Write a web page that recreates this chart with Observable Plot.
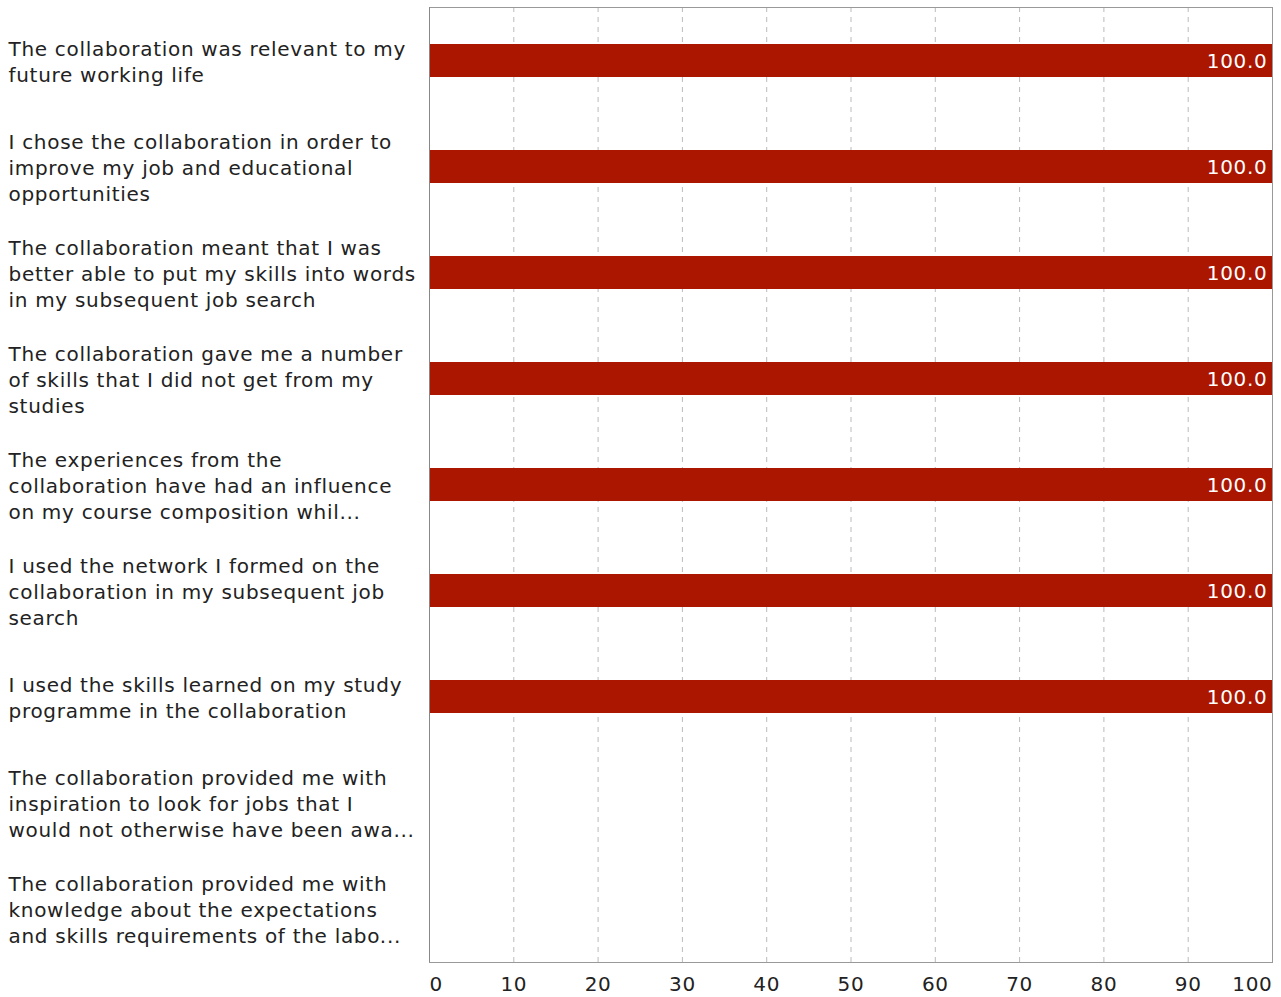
<!DOCTYPE html>
<html>
<head>
<meta charset="utf-8">
<script src="https://cdn.jsdelivr.net/npm/d3@7"></script>
<script src="https://cdn.jsdelivr.net/npm/@observablehq/plot@0.6"></script>
<style>
  html, body { margin: 0; padding: 0; background: #fff; }
  #chart svg { display: block; }
  #chart svg text { letter-spacing: 0.7px; }
</style>
</head>
<body>
<div id="chart"></div>
<script>
const categories = [
  "The collaboration was relevant to my\nfuture working life",
  "I chose the collaboration in order to\nimprove my job and educational\nopportunities",
  "The collaboration meant that I was\nbetter able to put my skills into words\nin my subsequent job search",
  "The collaboration gave me a number\nof skills that I did not get from my\nstudies",
  "The experiences from the\ncollaboration have had an influence\non my course composition whil...",
  "I used the network I formed on the\ncollaboration in my subsequent job\nsearch",
  "I used the skills learned on my study\nprogramme in the collaboration",
  "The collaboration provided me with\ninspiration to look for jobs that I\nwould not otherwise have been awa...",
  "The collaboration provided me with\nknowledge about the expectations\nand skills requirements of the labo..."
];
const values = [100, 100, 100, 100, 100, 100, 100, null, null];
const xTicks = [0, 10, 20, 30, 40, 50, 60, 70, 80, 90, 100];

const data = categories.map((c, i) => ({category: c, value: values[i]}));
const bars = data.filter(d => d.value != null);

const chart = Plot.plot({
  width: 1281,
  height: 997,
  marginLeft: 429,
  marginRight: 9,
  marginTop: 7,
  marginBottom: 35,
  style: {fontFamily: "DejaVu Sans, Verdana, sans-serif", fontSize: "20px", color: "#222", background: "#fff"},
  x: {domain: [0, 100], axis: null, label: null},
  y: {domain: categories, paddingInner: 0.69, paddingOuter: 0.345, axis: null, label: null},
  marks: [
    Plot.gridX(xTicks.slice(1, -1), {stroke: "#bbb", strokeOpacity: 1, strokeDasharray: "5,5"}),
    Plot.barX(bars, {x: "value", y: "category", fill: "#aa1600"}),
    Plot.text(bars, {x: "value", y: "category", text: d => d.value.toFixed(1), fill: "#fff", textAnchor: "end", dx: -5, dy: 1, fontSize: 20}),
    Plot.frame({stroke: "#999"}),
    Plot.ruleX([0], {stroke: "#888"}),
    Plot.text(categories, {y: d => d, text: d => d, frameAnchor: "left", textAnchor: "start", dx: -421, dy: 0, lineHeight: 1.3, fill: "#222", fontSize: 20}),
    Plot.axisX([0], {tickSize: 0, tickPadding: 14, textAnchor: "start", fontSize: 20, fill: "#222", label: null}),
    Plot.axisX(xTicks.slice(1, -1), {tickSize: 0, tickPadding: 14, fontSize: 20, fill: "#222", label: null}),
    Plot.axisX([100], {tickSize: 0, tickPadding: 14, textAnchor: "end", fontSize: 20, fill: "#222", label: null})
  ]
});
document.getElementById("chart").appendChild(chart);
</script>
</body>
</html>
